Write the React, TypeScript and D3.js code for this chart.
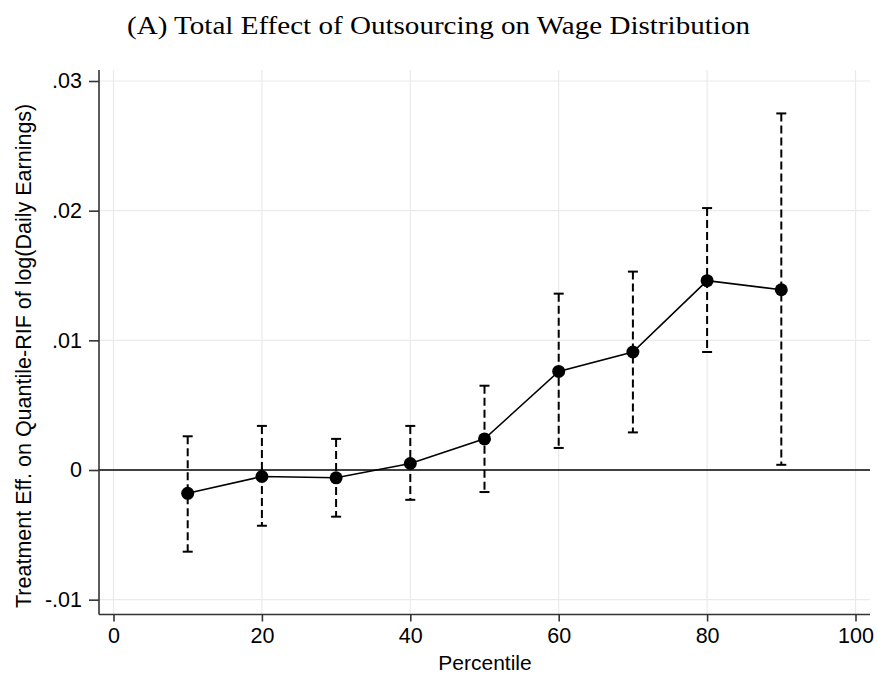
import React, { useEffect, useRef } from 'react';
import * as d3 from 'd3';

// percentiles and estimates
const percentiles = [10, 20, 30, 40, 50, 60, 70, 80, 90];
const estimates = [-0.0018, -0.0005, -0.0006, 0.0005, 0.0024, 0.0076, 0.0091, 0.0146, 0.0139];
const ciUpper = [0.0026, 0.0034, 0.0024, 0.0034, 0.0065, 0.0136, 0.0153, 0.0202, 0.0275];
const ciLower = [-0.0063, -0.0043, -0.0036, -0.0023, -0.0017, 0.0017, 0.0029, 0.0091, 0.0004];

const xTicks = [0, 20, 40, 60, 80, 100];
const yTicks = [-0.01, 0, 0.01, 0.02, 0.03];
const yTickLabels = ['-.01', '0', '.01', '.02', '.03'];

const width = 877;
const height = 675;
const margins = { l: 99, t: 70, r: 7, b: 60 };
const sans = 'Arial, "Liberation Sans", sans-serif';

const App = () => {
  const container = useRef(null);

  useEffect(() => {
    const svg = d3.select(container.current);
    svg.selectAll('*').remove();

    const x = d3.scaleLinear().domain([0, 100]).range([113.5, 855.5]);
    const y = d3.scaleLinear().domain([0, 0.03]).range([470, 81]);

    const plotRight = width - margins.r;
    const plotBottom = 614.5;

    // grid
    svg
      .append('g')
      .selectAll('line')
      .data(xTicks)
      .join('line')
      .attr('x1', d => x(d))
      .attr('x2', d => x(d))
      .attr('y1', margins.t)
      .attr('y2', plotBottom)
      .attr('stroke', '#eaeaea')
      .attr('stroke-width', 1.2);

    svg
      .append('g')
      .selectAll('line')
      .data(yTicks.filter(d => d !== 0))
      .join('line')
      .attr('x1', margins.l)
      .attr('x2', plotRight)
      .attr('y1', d => y(d))
      .attr('y2', d => y(d))
      .attr('stroke', '#eaeaea')
      .attr('stroke-width', 1.2);

    // zero line
    svg
      .append('line')
      .attr('x1', margins.l)
      .attr('x2', plotRight)
      .attr('y1', y(0))
      .attr('y2', y(0))
      .attr('stroke', '#000')
      .attr('stroke-width', 1.6);

    // confidence intervals
    const ci = svg.append('g');
    percentiles.forEach((p, i) => {
      const cx = x(p);
      ci.append('line')
        .attr('x1', cx)
        .attr('x2', cx)
        .attr('y1', y(ciUpper[i]))
        .attr('y2', y(ciLower[i]))
        .attr('stroke', '#000')
        .attr('stroke-width', 2)
        .attr('stroke-dasharray', '8,4');
      [ciUpper[i], ciLower[i]].forEach(v => {
        ci.append('line')
          .attr('x1', cx - 5)
          .attr('x2', cx + 5)
          .attr('y1', y(v))
          .attr('y2', y(v))
          .attr('stroke', '#000')
          .attr('stroke-width', 2);
      });
    });

    // estimate line + markers
    const line = d3
      .line<number>()
      .x((d, i) => x(percentiles[i]))
      .y(d => y(d));

    svg
      .append('path')
      .datum(estimates)
      .attr('d', line)
      .attr('fill', 'none')
      .attr('stroke', '#000')
      .attr('stroke-width', 1.6);

    svg
      .append('g')
      .selectAll('circle')
      .data(estimates)
      .join('circle')
      .attr('cx', (d, i) => x(percentiles[i]))
      .attr('cy', d => y(d))
      .attr('r', 6.5)
      .attr('fill', '#000');

    // axes
    const xAxis = d3.axisBottom(x).tickValues(xTicks).tickSize(7).tickPadding(6).tickSizeOuter(0);
    const xg = svg
      .append('g')
      .attr('transform', `translate(0,${plotBottom})`)
      .call(xAxis);
    xg.select('.domain').attr('d', `M${margins.l},0H${plotRight}`).attr('stroke', '#333').attr('stroke-width', 1.6);
    xg.selectAll('.tick line').attr('stroke', '#333').attr('stroke-width', 1.6);
    xg.selectAll('text').attr('font-family', sans).attr('font-size', 21.5).attr('fill', '#000');

    const yAxis = d3
      .axisLeft(y)
      .tickValues(yTicks)
      .tickFormat((d, i) => yTickLabels[i])
      .tickSize(10)
      .tickPadding(7)
      .tickSizeOuter(0);
    const yg = svg
      .append('g')
      .attr('transform', `translate(${margins.l},0)`)
      .call(yAxis);
    yg.select('.domain').attr('d', `M0,${margins.t}V${plotBottom}`).attr('stroke', '#333').attr('stroke-width', 1.6);
    yg.selectAll('.tick line').attr('stroke', '#333').attr('stroke-width', 1.6);
    yg.selectAll('text').attr('font-family', sans).attr('font-size', 21.5).attr('fill', '#000');

    // titles
    svg
      .append('text')
      .attr('x', 127)
      .attr('y', 34)
      .attr('textLength', 623)
      .attr('lengthAdjust', 'spacingAndGlyphs')
      .attr('font-family', '"Liberation Serif", "DejaVu Serif", serif')
      .attr('font-size', 25)
      .text('(A) Total Effect of Outsourcing on Wage Distribution');

    svg
      .append('text')
      .attr('x', 485)
      .attr('y', 670)
      .attr('text-anchor', 'middle')
      .attr('font-family', sans)
      .attr('font-size', 21)
      .text('Percentile');

    svg
      .append('text')
      .attr('transform', `translate(31,608) rotate(-90)`)
      .attr('text-anchor', 'start')
      .attr('font-family', sans)
      .attr('font-size', 21.5)
      .text('Treatment Eff. on Quantile-RIF of log(Daily Earnings)');
  }, []);

  return (
    <svg
      ref={container}
      width={width}
      height={height}
      style={{ position: 'absolute', left: 0, top: 0, background: '#fff' }}
    />
  );
};

export default App;
